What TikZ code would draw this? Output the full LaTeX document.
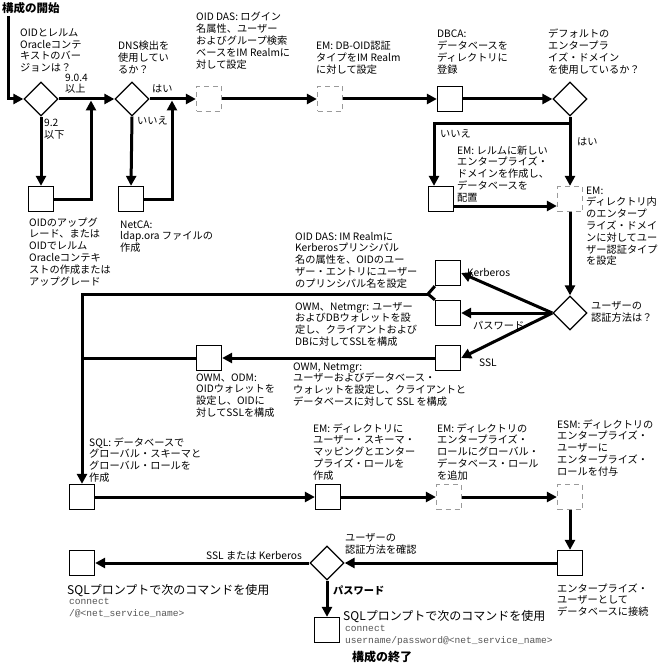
\documentclass[tikz,border=0pt]{standalone}
\usepackage{fontspec}
\setmainfont{Noto Sans CJK JP}
\newfontfamily\monof{Liberation Mono}
\usetikzlibrary{arrows.meta,shapes.geometric}
\definecolor{dashgray}{HTML}{9A9A9A}
\definecolor{monogray}{HTML}{555555}
\begin{document}
\begin{tikzpicture}[x=1pt,y=-1pt,
  conn/.style={line width=3pt,-{Triangle[length=10pt,width=10pt]}},
  plain/.style={line width=3pt},
  box/.style={draw,line width=1.3pt,minimum size=25pt,inner sep=0pt,fill=white},
  dbox/.style={draw=dashgray,line width=1.3pt,dash pattern=on 5pt off 4pt,minimum size=25pt,inner sep=0pt},
  dia/.style={draw,diamond,line width=1.3pt,minimum size=34pt,inner sep=0pt,fill=white},
  lbl/.style={anchor=base west,align=left,inner sep=0pt,font=\fontsize{10.2}{11.8}\selectfont},
  big/.style={anchor=base west,align=left,inner sep=0pt,font=\fontsize{12}{14}\selectfont},
  ttl/.style={anchor=base west,inner sep=0pt,font=\fontsize{11.5}{13}\selectfont\bfseries},
  mono/.style={anchor=base west,align=left,inner sep=0pt,text=monogray,font=\monof\fontsize{9.6}{12}\selectfont},
]
\useasboundingbox (0,0) rectangle (662,663);

% shapes
\node[dia] (dia1) at (41,99) {};
\node[dia] (dia2) at (132,99) {};
\node[dbox] (d1) at (209,99) {};
\node[dbox] (d2) at (330,99) {};
\node[box] (b3) at (450,99) {};
\node[dia] (dia3) at (570,99) {};
\node[box] (b1) at (41,199) {};
\node[box] (b2) at (131,199) {};
\node[box] (b4) at (441,199) {};
\node[dbox] (d3) at (570,199) {};
\node[dia] (dia4) at (570,313) {};
\node[box] (b5) at (448,273) {};
\node[box] (b6) at (448,313) {};
\node[box] (b7) at (448,358) {};
\node[box] (b9) at (209,358) {};
\node[box] (b8) at (82,497) {};
\node[box] (b10) at (328,497) {};
\node[dbox] (d4) at (449,497) {};
\node[dbox] (d5) at (570,497) {};
\node[box] (b11) at (570,563) {};
\node[dia] (dia5) at (327,563) {};
\node[box] (b12) at (82,563) {};
\node[box] (b13) at (327,630) {};

% helper coordinates
\coordinate (s0) at (8,16);
\coordinate (m1) at (91,100.5);
\coordinate (m2) at (172,100.5);
\coordinate (br) at (570,124);
\coordinate (brl) at (434,124);
\coordinate (jn) at (428,294);
\coordinate (lv) at (82,294);
\coordinate (lv2) at (82,358);

% connectors
\draw[conn] (s0) |- (dia1.west);
\draw[conn] (dia1.east) -- (dia2.west);
\draw[conn] (dia1.south) -- (b1.north);
\draw[conn] (b1.east) -| (m1);
\draw[conn] (dia2.east) -- (d1.west);
\draw[conn] (dia2.south) -- (b2.north);
\draw[conn] (b2.east) -| (m2);
\draw[conn] (d1.east) -- (d2.west);
\draw[conn] (d2.east) -- (b3.west);
\draw[conn] (b3.east) -- (dia3.west);
\draw[conn] (dia3.south) -- (d3.north);
\draw[conn] (br) -- (brl) -- (brl |- b4.north);
\draw[conn] ([yshift=-7pt]b4.east) -- ([yshift=-7pt]b4.east -| d3.west);
\draw[conn] (d3.south) -- (dia4.north);
\draw[conn] (dia4.west) -- (b5.east);
\draw[conn] (dia4.west) -- (b6.east);
\draw[conn] (dia4.west) -- (b7.east);
\draw[plain] (b5.south west) -- (jn) -- (b6.north west);
\draw[conn] (jn) -- (lv) -- (b8.north);
\draw[conn] (b7.west) -- (b9.east);
\draw[plain] (b9.west) -- (lv2);
\draw[conn] (b8.east) -- (b10.west);
\draw[conn] (b10.east) -- (d4.west);
\draw[conn] (d4.east) -- (d5.west);
\draw[conn] (d5.south) -- (b11.north);
\draw[conn] (b11.west) -- (dia5.east);
\draw[conn] (dia5.west) -- (b12.east);
\draw[conn] (dia5.south) -- (b13.north);

% texts (anchor = baseline of the last line)
\node[ttl] (tstart) at (2,13) {構成の開始};
\node[lbl,font=\fontsize{10.2}{11.5}\selectfont] (t1) at (20,71.5) {OIDとレルム\\Oracleコンテ\\キストのバー\\ジョンは？};
\node[lbl] (t904) at (65,93) {9.0.4\\以上};
\node[lbl] (t92) at (44,138.8) {9.2\\以下};
\node[lbl] (tdns) at (118,73.6) {DNS検出を\\使用してい\\るか？};
\node[lbl] (tyes1) at (152,93) {はい};
\node[lbl] (tno1) at (137,125) {いいえ};
\node[lbl] (toid) at (196,68.2) {OID DAS: ログイン\\名属性、ユーザー\\およびグループ検索\\ベースをIM Realmに\\対して設定};
\node[lbl] (temdb) at (316,73.6) {EM: DB-OID認証\\タイプをIM Realm\\に対して設定};
\node[lbl] (tdbca) at (437,73.4) {DBCA:\\データベースを\\ディレクトリに\\登録};
\node[lbl] (tdef) at (548,73.4) {デフォルトの\\エンタープラ\\イズ・ドメイン\\を使用しているか？};
\node[lbl] (tb1) at (29,285) {OIDのアップグ\\レード、または\\OIDでレルム\\Oracleコンテキ\\ストの作成または\\アップグレード};
\node[lbl] (tb2) at (120,251.6) {NetCA:\\ldap.ora ファイルの\\作成};
\node[lbl] (tno2) at (440,138) {いいえ};
\node[lbl] (tyes2) at (577,146) {はい};
\node[lbl] (temnew) at (457,201.2) {EM: レルムに新しい\\エンタープライズ・\\ドメインを作成し、\\データベースを\\配置};
\node[lbl] (temdir) at (586,264.8) {EM:\\ディレクトリ内\\のエンタープ\\ライズ・ドメイ\\ンに対してユー\\ザー認証タイプ\\を設定};
\node[lbl] (tkrb) at (295,287.2) {OID DAS: IM Realmに\\Kerberosプリンシパル\\名の属性を、OIDのユー\\ザー・エントリにユーザー\\のプリンシパル名を設定};
\node[lbl] (towm1) at (295,345.4) {OWM、Netmgr: ユーザー\\およびDBウォレットを設\\定し、クライアントおよび\\DBに対してSSLを構成};
\node[lbl] (towm2) at (293,405.4) {OWM, Netmgr:\\ユーザーおよびデータベース・\\ウォレットを設定し、クライアントと\\データベースに対して SSL を構成};
\node[lbl] (todm) at (196,416.4) {OWM、ODM:\\OIDウォレットを\\設定し、OIDに\\対してSSLを構成};
\node[lbl] (tkerb) at (467,276) {Kerberos};
\node[lbl] (tpass) at (473,329) {パスワード};
\node[lbl] (tssl) at (479,366) {SSL};
\node[lbl] (tauth) at (591,321) {ユーザーの\\認証方法は？};
\node[lbl] (tsql) at (89,481.4) {SQL: データベースで\\グローバル・スキーマと\\グローバル・ロールを\\作成};
\node[lbl] (temmap) at (313,479.2) {EM: ディレクトリに\\ユーザー・スキーマ・\\マッピングとエンター\\プライズ・ロールを\\作成};
\node[lbl] (temrole) at (437,479.2) {EM: ディレクトリの\\エンタープライズ・\\ロールにグローバル・\\データベース・ロール\\を追加};
\node[lbl] (tesm) at (557,475.2) {ESM: ディレクトリの\\エンタープライズ・\\ユーザーに\\エンタープライズ・\\ロールを付与};
\node[lbl,anchor=base east] (tsslk) at (302,559) {SSL または Kerberos};
\node[lbl] (tauth2) at (345,553) {ユーザーの\\認証方法を確認};
\node[lbl] (tconn) at (557,615.6) {エンタープライズ・\\ユーザーとして\\データベースに接続};
\node[big] (tsqlp1) at (67,594) {SQLプロンプトで次のコマンドを使用};
\node[mono] (tc1) at (69,616) {connect\\/@<net\_service\_name>};
\node[lbl,font=\fontsize{10.2}{11.8}\selectfont\bfseries] (tpwd) at (333,594) {パスワード};
\node[big] (tsqlp2) at (343,620) {SQLプロンプトで次のコマンドを使用};
\node[mono] (tc2) at (345,643) {connect\\username/password@<net\_service\_name>};
\node[ttl,font=\fontsize{12}{14}\selectfont\bfseries] (tend) at (352,661) {構成の終了};
\end{tikzpicture}
\end{document}
